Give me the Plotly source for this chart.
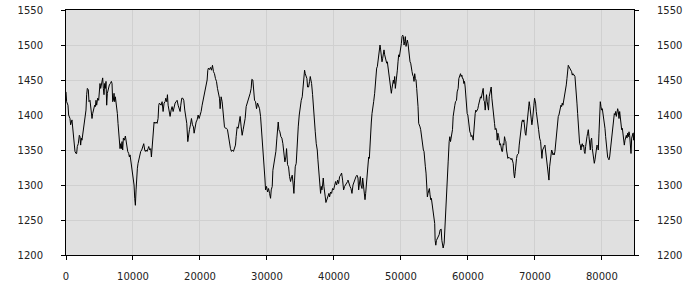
import plotly.graph_objects as go

distance = [
    0, 94, 294, 393, 593, 692, 892, 991, 1091, 1191, 1340, 1490, 1589, 1689, 1838, 1988, 2088, 2187, 2287, 2386,
    2486, 2685, 2885, 2984, 3084, 3184, 3333, 3433, 3582, 3732, 3881, 3981, 4131, 4280, 4380, 4479, 4579, 4728, 4878, 4978,
    5077, 5177, 5326, 5476, 5576, 5675, 5775, 5875, 5974, 6074, 6174, 6323, 6473, 6622, 6772, 6871, 6971, 7071, 7170, 7270,
    7369, 7469, 7668, 7768, 7868, 7967, 8067, 8167, 8266, 8366, 8465, 8565, 8715, 8864, 8964, 9113, 9213, 9363, 9462, 9562,
    9662, 9761, 9861, 9960, 10060, 10160, 10259, 10359, 10459, 10559, 10658, 10758, 10907, 11057, 11157, 11306, 11456, 11605, 11755, 11854,
    11954, 12103, 12253, 12352, 12502, 12651, 12751, 12851, 12950, 13050, 13150, 13299, 13449, 13598, 13748, 13848, 13947,
    14198, 14347, 14497, 14646, 14795, 14895, 15044, 15144, 15244, 15393, 15542, 15692, 15841, 15991, 16140, 16289, 16439, 16588, 16738, 16887,
    17036, 17136, 17285, 17435, 17584, 17734, 17883, 18032, 18182, 18281, 18431, 18580, 18730, 18879, 19028, 19128, 19277, 19427, 19576, 19726,
    19875, 20024, 20174, 20323, 20473, 20622, 20771, 20921, 21070, 21170, 21269, 21419, 21568, 21718, 21867, 22016, 22166, 22315, 22465, 22614,
    22763, 22913, 23012, 23162, 23311, 23461, 23560, 23660, 23809, 23959, 24108, 24257, 24407, 24556, 24706, 24855, 25004, 25154, 25303, 25403,
    25552, 25702, 25851, 26000, 26150, 26299, 26449, 26598, 26747, 26897, 27046, 27196, 27345, 27494, 27644, 27743, 27893,
    27999, 28148, 28298, 28447, 28596, 28746, 28895, 29045, 29194, 29343, 29493, 29592, 29692, 29792, 29941, 30090, 30240, 30389, 30539, 30638,
    30788, 30887, 31037, 31186, 31335, 31485, 31584, 31684, 31784, 31933, 32082, 32232, 32381, 32531, 32680, 32829, 32929, 33078, 33228, 33377,
    33527, 33676, 33776, 33925, 34025, 34124, 34224, 34373, 34523, 34672, 34821, 34971, 35120, 35270, 35419, 35519, 35618, 35718, 35817, 35967,
    36066, 36216, 36365, 36465, 36564, 36664, 36813, 36963, 37062, 37212, 37361, 37511, 37610, 37710, 37809, 37909, 38009, 38108, 38208, 38307,
    38407, 38507, 38606, 38706, 38805, 38955, 39104, 39254, 39353, 39503, 39652, 39801, 39951, 40100, 40250, 40399, 40548, 40698, 40847, 40997,
    41146, 41295, 41445, 41594, 41744, 41893, 42042,
    42099, 42248, 42398, 42547, 42696, 42846, 42995, 43145, 43294, 43443, 43593, 43692, 43792, 43941, 44041, 44190, 44290, 44390, 44539, 44639,
    44738, 44838, 44937, 45087, 45186, 45286, 45386, 45485, 45585, 45684, 45784, 45933, 46083, 46182, 46282, 46382, 46481, 46581, 46680, 46780,
    46880, 46979, 47079, 47178, 47278, 47378, 47477, 47577, 47676, 47776, 47876, 47975, 48075, 48174, 48274, 48374, 48473, 48573, 48672, 48772,
    48872, 48971, 49071, 49170, 49270, 49370, 49469, 49569, 49668, 49768, 49868, 49967, 50067, 50166, 50266, 50366, 50465, 50565, 50664, 50764,
    50864, 50963, 51063, 51162, 51262, 51362, 51461, 51561, 51660, 51760, 51860, 51959, 52059, 52158, 52258, 52358, 52457, 52557, 52656, 52756,
    52856, 52955, 53055, 53154, 53254, 53354, 53453, 53553, 53652, 53752, 53852, 53951, 54051, 54150, 54250, 54350, 54449, 54549, 54648, 54748,
    54848, 54947, 55047,
    55110, 55210, 55310, 55510, 55710, 55860, 56010, 56110, 56210, 56310, 56460, 56560, 56660, 56810,
    56906, 57055, 57204, 57304, 57404, 57503, 57603, 57702, 57802, 57902, 58051, 58151, 58300, 58400, 58549, 58649, 58798, 58898, 58997, 59097,
    59196, 59296, 59396, 59495, 59595, 59694, 59794, 59894, 59993, 60093, 60192, 60292, 60392, 60491, 60591, 60690, 60790, 60890, 60989, 61089,
    61188, 61288, 61388, 61487, 61587, 61686, 61786, 61886, 61985, 62085, 62184, 62284, 62384, 62483, 62583, 62682, 62782, 62882, 62981, 63081,
    63180, 63280, 63380, 63479, 63579, 63678, 63778, 63878, 63977, 64077, 64176, 64276, 64376, 64475, 64575, 64674, 64774, 64874, 64973, 65073,
    65172, 65272, 65372, 65471, 65571, 65670, 65770, 65870, 65969, 66069, 66168, 66268, 66368, 66467, 66567, 66666, 66766, 66866, 66965, 67065,
    67164, 67264, 67364, 67463, 67563, 67662, 67762, 67862, 67961, 68061, 68160, 68260, 68360, 68459, 68559, 68658, 68758, 68858, 68957, 69057,
    69156, 69256, 69356, 69455, 69555, 69654, 69754, 69854, 69953, 70053,
    70109, 70209, 70308, 70458, 70557, 70707, 70856, 70956, 71055, 71155, 71304, 71404, 71503, 71603, 71703, 71802, 71902, 72001, 72101, 72201,
    72300, 72400, 72499, 72599, 72699, 72798, 72898, 72997, 73097, 73197, 73296, 73396, 73495, 73595, 73695, 73794, 73894, 73993, 74093, 74193,
    74292, 74392, 74491, 74591, 74691, 74790, 74890, 74989, 75089, 75189, 75288, 75388, 75487, 75587, 75687, 75786, 75886, 75985, 76085, 76185,
    76284, 76384, 76483, 76583, 76683, 76782, 76882, 76981, 77081, 77181, 77280, 77380, 77479, 77579, 77679, 77778, 77878, 77977, 78077, 78177,
    78276, 78376, 78475, 78575, 78675, 78774, 78874, 78973, 79073, 79173, 79272, 79372, 79471, 79571, 79671, 79770, 79870, 79969, 80069, 80169,
    80268, 80368, 80467, 80567, 80667, 80766, 80866, 80965, 81065, 81165, 81264, 81364, 81463, 81563, 81663, 81762, 81862, 81961, 82061, 82161,
    82260, 82360, 82459, 82559, 82659, 82758, 82858, 82957, 83057, 83157, 83256, 83356, 83455, 83555, 83655, 83754, 83854, 83953, 84053, 84152,
    84252, 84352, 84451, 84551, 84650, 84750, 84800,
]

elevation = [
    1433, 1419, 1414, 1400, 1395, 1386, 1393, 1383, 1376, 1362, 1348, 1345, 1345, 1355, 1359, 1371, 1369, 1357, 1367, 1364,
    1371, 1386, 1398, 1407, 1429, 1438, 1436, 1419, 1421, 1409, 1395, 1402, 1407, 1414, 1412, 1421, 1414, 1424, 1421, 1433,
    1445, 1438, 1448, 1453, 1438, 1429, 1445, 1438, 1448, 1414, 1431, 1440, 1443, 1445, 1448, 1445, 1419, 1421, 1431, 1419,
    1426, 1419, 1402, 1388, 1374, 1357, 1352, 1359, 1352, 1362, 1350, 1367, 1364, 1370, 1362, 1357, 1348, 1345, 1340, 1343,
    1336, 1324, 1321, 1314, 1302, 1300, 1281, 1271, 1293, 1317, 1324, 1331, 1338, 1345, 1348, 1350, 1357, 1359, 1350, 1348,
    1350, 1348, 1352, 1355, 1350, 1352, 1340, 1357, 1374, 1388, 1390, 1388, 1390, 1388, 1395, 1414, 1417,
    1414, 1419, 1405, 1417, 1419, 1424, 1419, 1429, 1414, 1407, 1398, 1407, 1412, 1405, 1412, 1417, 1419, 1421, 1414, 1409,
    1405, 1414, 1424, 1424, 1421, 1407, 1393, 1388, 1362, 1374, 1379, 1386, 1395, 1386, 1383, 1374, 1383, 1390, 1393, 1400,
    1395, 1400, 1405, 1414, 1421, 1429, 1438, 1443, 1450, 1464, 1467, 1465, 1468, 1464, 1471, 1462, 1459, 1452, 1448, 1438,
    1429, 1424, 1409, 1426, 1419, 1407, 1395, 1383, 1381, 1381, 1379, 1369, 1357, 1352, 1348, 1350, 1348, 1355, 1357, 1369,
    1383, 1381, 1393, 1398, 1383, 1371, 1379, 1386, 1395, 1412, 1417, 1419, 1424, 1431, 1438, 1451, 1450,
    1433, 1421, 1419, 1409, 1417, 1414, 1409, 1398, 1379, 1367, 1345, 1321, 1310, 1293, 1298, 1290, 1295, 1288, 1281, 1293,
    1298, 1321, 1331, 1340, 1348, 1367, 1388, 1390, 1379, 1376, 1369, 1367, 1359, 1343, 1333, 1340, 1352, 1329, 1326, 1312,
    1305, 1312, 1314, 1300, 1288, 1307, 1326, 1331, 1364, 1383, 1400, 1414, 1421, 1426, 1443, 1455, 1464, 1459, 1457, 1452,
    1440, 1440, 1448, 1455, 1450, 1445, 1429, 1405, 1390, 1376, 1359, 1350, 1336, 1321, 1305, 1293, 1288, 1298, 1293, 1300,
    1310, 1298, 1293, 1283, 1275, 1279, 1283, 1288, 1283, 1290, 1288, 1295, 1293, 1302, 1305, 1300, 1307, 1302, 1312, 1314,
    1317, 1307, 1293, 1298, 1300, 1302, 1305,
    1307, 1300, 1298, 1295, 1288, 1300, 1305, 1310, 1312, 1314, 1310, 1293, 1302, 1312, 1300, 1295, 1310, 1298, 1288, 1279,
    1288, 1300, 1317, 1333, 1340, 1338, 1364, 1369, 1390, 1402, 1414, 1419, 1431, 1445, 1455, 1467, 1469, 1476, 1488, 1495,
    1500, 1493, 1483, 1476, 1481, 1488, 1493, 1486, 1483, 1479, 1474, 1476, 1469, 1462, 1455, 1448, 1436, 1431, 1438, 1443,
    1450, 1445, 1455, 1438, 1445, 1455, 1464, 1476, 1486, 1483, 1488, 1495, 1502, 1512, 1514, 1512, 1500, 1505, 1512, 1498,
    1505, 1507, 1502, 1490, 1486, 1476, 1474, 1464, 1462, 1457, 1455, 1448, 1459, 1452, 1450, 1438, 1429, 1412, 1388, 1386,
    1383, 1379, 1369, 1364, 1352, 1350, 1348, 1331, 1326, 1317, 1286, 1283, 1288, 1293, 1295, 1286, 1279, 1281, 1274, 1271,
    1264, 1257, 1245,
    1221, 1214, 1221, 1226, 1229, 1236, 1237, 1221, 1214, 1210, 1217, 1240, 1262, 1293,
    1317, 1333, 1362, 1369, 1362, 1369, 1374, 1379, 1398, 1407, 1414, 1419, 1421, 1433, 1438, 1452, 1457, 1459, 1455, 1457,
    1452, 1452, 1445, 1448, 1440, 1424, 1412, 1402, 1400, 1390, 1381, 1376, 1374, 1369, 1371, 1369, 1364, 1383, 1395, 1402,
    1407, 1405, 1407, 1409, 1414, 1419, 1421, 1426, 1424, 1429, 1433, 1438, 1421, 1419, 1407, 1421, 1429, 1419, 1412, 1407,
    1426, 1431, 1433, 1440, 1424, 1412, 1407, 1395, 1388, 1379, 1381, 1379, 1364, 1374, 1371, 1364, 1357, 1359, 1352, 1348,
    1348, 1359, 1357, 1369, 1364, 1362, 1350, 1340, 1338, 1340, 1338, 1338, 1338, 1336, 1338, 1333, 1331, 1317, 1310, 1319,
    1333, 1338, 1343, 1345, 1345, 1357, 1367, 1369, 1383, 1390, 1393, 1390, 1393, 1381, 1374, 1371, 1381, 1393, 1407, 1417,
    1419, 1412, 1402, 1395, 1386, 1393, 1400, 1414, 1424, 1419,
    1417, 1405, 1395, 1386, 1379, 1367, 1362, 1350, 1338, 1350, 1352, 1355, 1357, 1348, 1340, 1336, 1326, 1312, 1307, 1326,
    1338, 1350, 1350, 1348, 1343, 1345, 1343, 1348, 1359, 1374, 1383, 1390, 1398, 1400, 1407, 1409, 1414, 1412, 1417, 1414,
    1419, 1424, 1433, 1436, 1443, 1452, 1464, 1471, 1469, 1467, 1464, 1464, 1462, 1457, 1459, 1457, 1457, 1455, 1445, 1433,
    1417, 1402, 1381, 1364, 1359, 1357, 1350, 1357, 1359, 1355, 1357, 1348, 1345, 1355, 1367, 1369, 1374, 1379, 1369, 1357,
    1350, 1364, 1367, 1352, 1345, 1338, 1331, 1336, 1345, 1352, 1357, 1355, 1350, 1374, 1390, 1419, 1412, 1407, 1409, 1402,
    1395, 1393, 1381, 1369, 1357, 1343, 1340, 1338, 1336, 1340, 1348, 1359, 1369, 1379, 1388, 1395, 1402, 1400, 1405, 1398,
    1402, 1409, 1405, 1395, 1405, 1393, 1383, 1379, 1381, 1371, 1364, 1357, 1364, 1369, 1371, 1367, 1374, 1369, 1376, 1371,
    1350, 1345, 1367, 1371, 1374, 1364, 1375,
]

x_ticks = [0, 10000, 20000, 30000, 40000, 50000, 60000, 70000, 80000]
y_ticks = [1200, 1250, 1300, 1350, 1400, 1450, 1500, 1550]

fig = go.Figure()
fig.add_trace(go.Scatter(
    x=distance, y=elevation, mode="lines",
    line=dict(color="black", width=1),
    hoverinfo="skip", showlegend=False,
))
# same series on the right-hand axis so that axis is drawn (identical overlay)
fig.add_trace(go.Scatter(
    x=distance, y=elevation, mode="lines", yaxis="y2",
    line=dict(color="black", width=1), opacity=0,
    hoverinfo="skip", showlegend=False,
))

axis_font = dict(family="DejaVu Sans", size=10, color="#222222")

fig.update_layout(
    template="none",
    width=700, height=300,
    margin=dict(l=66, r=66, t=10, b=45, pad=0),
    paper_bgcolor="white",
    plot_bgcolor="#e0e0e0",
    showlegend=False,
    font=axis_font,
    xaxis=dict(
        range=[0, 84800], tickvals=x_ticks, ticktext=[str(v) for v in x_ticks],
        showgrid=True, gridcolor="#d0d0d0", gridwidth=1, zeroline=False,
        showline=True, linecolor="black", linewidth=1, mirror=True,
        ticks="outside", ticklen=4, tickcolor="black", tickfont=axis_font,
        ticklabelstandoff=8, automargin=False,
    ),
    yaxis=dict(
        range=[1200, 1550], tickvals=y_ticks, ticktext=[str(v) for v in y_ticks],
        showgrid=True, gridcolor="#d0d0d0", gridwidth=1, zeroline=False,
        showline=True, linecolor="black", linewidth=1, mirror=True,
        ticks="outside", ticklen=4, tickcolor="black", tickfont=axis_font,
        ticklabelstandoff=16, automargin=False,
    ),
    yaxis2=dict(
        range=[1200, 1550], tickvals=y_ticks, ticktext=[str(v) for v in y_ticks],
        overlaying="y", side="right", anchor="x",
        showgrid=False, zeroline=False,
        showline=True, linecolor="black", linewidth=1,
        ticks="outside", ticklen=4, tickcolor="black", tickfont=axis_font,
        ticklabelstandoff=16, automargin=False,
    ),
)

fig.write_html("out.html")
